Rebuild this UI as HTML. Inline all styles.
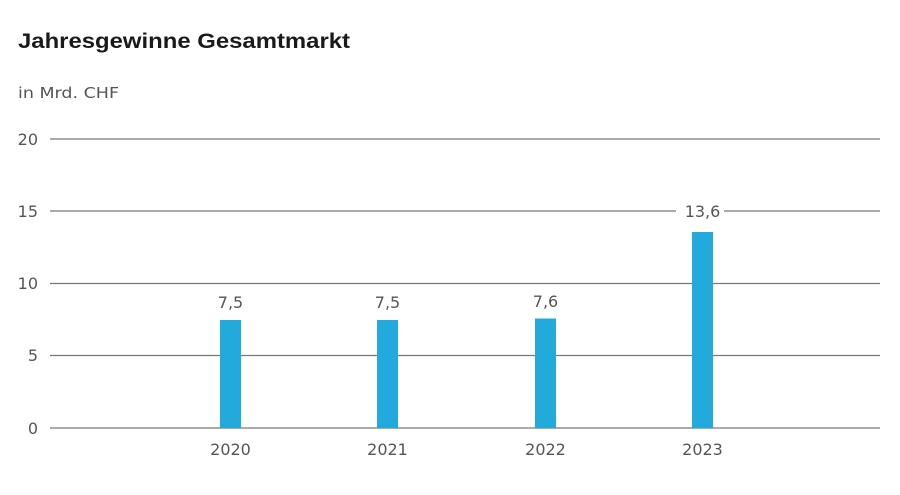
<!DOCTYPE html>
<html><head><meta charset="utf-8"><style>
html,body{margin:0;padding:0;background:#fff;width:900px;height:495px;overflow:hidden}
svg{display:block}
</style></head><body>
<svg width="900" height="495" xmlns="http://www.w3.org/2000/svg" font-family="'DejaVu Sans','Liberation Sans',sans-serif">
<text x="18" y="48" font-size="21" font-weight="bold" fill="#1a1a1a" font-family="'Liberation Sans',sans-serif" textLength="332" lengthAdjust="spacingAndGlyphs">Jahresgewinne Gesamtmarkt</text>
<text x="18" y="98" font-size="15" fill="#555" textLength="101" lengthAdjust="spacingAndGlyphs">in Mrd. CHF</text>
<g stroke="#777" stroke-width="1.3">
<line x1="50" y1="139" x2="880" y2="139"/>
<line x1="50" y1="211" x2="676" y2="211"/>
<line x1="724" y1="211" x2="880" y2="211"/>
<line x1="50" y1="283.5" x2="880" y2="283.5"/>
<line x1="50" y1="355.5" x2="880" y2="355.5"/>
<line x1="50" y1="428" x2="880" y2="428"/>
</g>
<g font-size="16" fill="#555" text-anchor="end">
<text x="38" y="145">20</text>
<text x="38" y="217">15</text>
<text x="38" y="289">10</text>
<text x="38" y="361">5</text>
<text x="38" y="434">0</text>
</g>
<g fill="#22aadd">
<rect x="220" y="320" width="21" height="108"/>
<rect x="377" y="320" width="21" height="108"/>
<rect x="535" y="318.5" width="21" height="109.5"/>
<rect x="692" y="232" width="21" height="196"/>
</g>
<g font-size="16" fill="#555" text-anchor="middle">
<text x="230.5" y="308">7,5</text>
<text x="387.5" y="308">7,5</text>
<text x="545.5" y="307">7,6</text>
<text x="702.5" y="217">13,6</text>
<text x="230.5" y="455">2020</text>
<text x="387.5" y="455">2021</text>
<text x="545.5" y="455">2022</text>
<text x="702.5" y="455">2023</text>
</g>
</svg>
</body></html>
